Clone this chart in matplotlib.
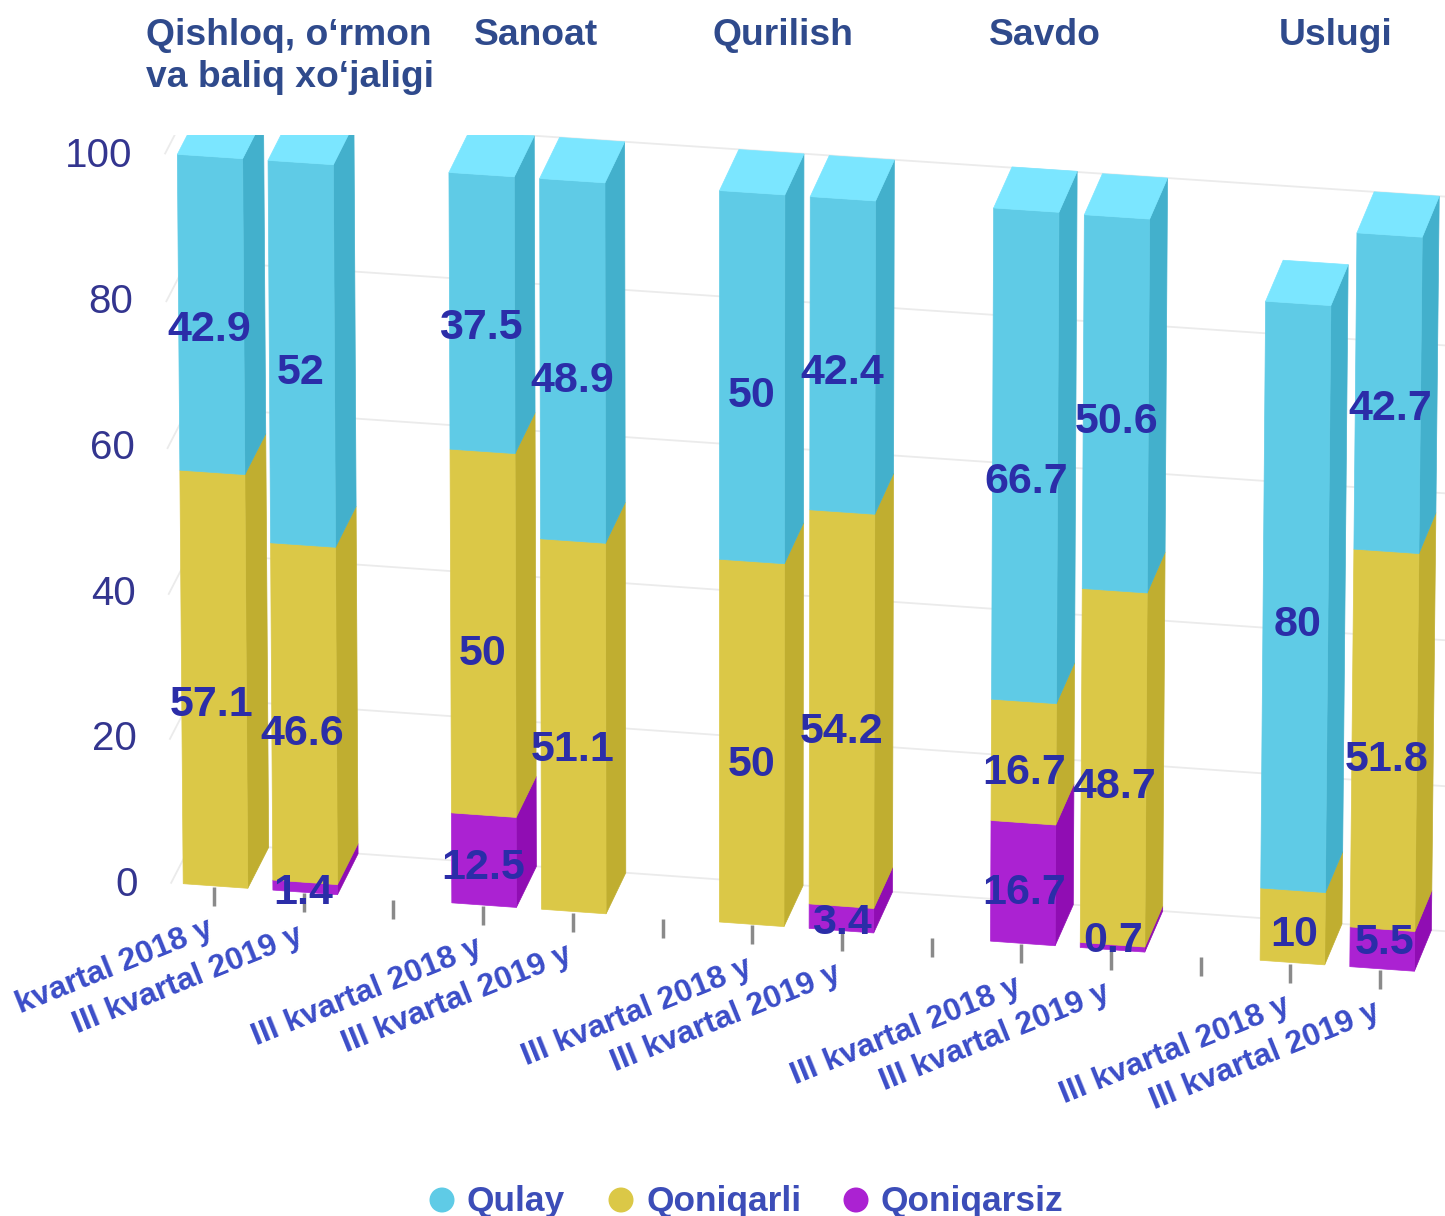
import matplotlib
matplotlib.use("Agg")
import matplotlib.pyplot as plt
from matplotlib.patches import Polygon, Rectangle, Circle

plt.rcParams['font.family'] = ['Liberation Sans', 'DejaVu Sans']

# ---------- data ----------
categories = ["kvartal 2018 y", "III kvartal 2019 y", "",
              "III kvartal 2018 y", "III kvartal 2019 y", "",
              "III kvartal 2018 y", "III kvartal 2019 y", "",
              "III kvartal 2018 y", "III kvartal 2019 y", "",
              "III kvartal 2018 y", "III kvartal 2019 y"]
qulay      = [42.9, 52.0, 0, 37.5, 48.9, 0, 50.0, 42.4, 0, 66.7, 50.6, 0, 80.0, 42.7]
qoniqarli  = [57.1, 46.6, 0, 50.0, 51.1, 0, 50.0, 54.2, 0, 16.7, 48.7, 0, 10.0, 51.8]
qoniqarsiz = [0.0, 1.4, 0, 12.5, 0.0, 0, 0.0, 3.4, 0, 16.7, 0.7, 0, 0.0, 5.5]
series_names = ["Qulay", "Qoniqarli", "Qoniqarsiz"]
group_titles = ["Qishloq, o\u2018rmon\nva baliq xo\u2018jaligi", "Sanoat", "Qurilish", "Savdo", "Uslugi"]
y_ticks = [0, 20, 40, 60, 80, 100]

# ---------- styles and layout ----------
front = ["#5FCBE6", "#DBC847", "#AB22D2"]
side = ["#43B0CC", "#C0AE30", "#900DB3"]
top_col = "#7BE6FF"
label_col = "#2B2DA8"
xlab_col = "#3B4DC8"
ytick_col = "#33358F"
title_col = "#2F4A8C"
legend_col = "#3C4DB8"
grid_col = "#EBEBEB"
half_w = 0.36

# label nudges (pixels down), per series, from the picture
nudge_q = [14, 18, 0, 13, 19, 0, 17, 16, 0, 25, 17, 0, 26, 14]
nudge_m = [24, 19, 0, 20, 22, 0, 21, 22, 0, 10, 18, 0, 6, 19]
nudge_b = [0, 3, 0, 6, 0, 0, 0, 2, 0, 8, -9, 0, 0, -9]
# small sideways corrections of the bar slots, pixels
slot_shift = [-0.5, -0.5, 0, -1, -1, 0, -2.5, -2.5, 0, -0.5, -0.5, 0, 0, 0]
BOW = 12.0  # sag of the value scale at mid height under the perspective, pixels


def project(c, v, depth=0.0, shift=0.0, bow=True):
    """Axis position (category c, value v, depth 0..1) to canvas position."""
    t = v / 100.0
    x0, x100 = 216 + 89.7 * c, 210.5 + 90.7 * c
    y0, y100 = 886 + 6.38 * c, 156.5 + 6.04 * c
    x = x0 + (x100 - x0) * t + depth * (21 - 0.3 * c) + shift
    y = y0 + (y100 - y0) * t - depth * 41
    if bow:
        y += BOW * t * (1 - t)
    return x, y


W, H = 1445, 1216
fig = plt.figure(figsize=(W / 100, H / 100), dpi=100, facecolor="white")
ax = fig.add_axes([0, 0, 1, 1])
ax.set_xlim(0, W)
ax.set_ylim(H, 0)
ax.axis("off")
clip = Rectangle((0, 135), W, H - 135, transform=ax.transData)

# grid on walls
C0, C1 = -0.5, 13.6
for v in y_ticks:
    a, b = project(C0, v), project(C0, v, 1)
    e = project(C1, v, 1)
    ln, = ax.plot([a[0], b[0], e[0]], [a[1], b[1], e[1]], color=grid_col, lw=1.3, zorder=1)
    ln.set_clip_path(clip)
    x, y = project(C0, v, bow=False)
    ax.text(x - 33, y - 1.5, str(v), ha="right", va="center_baseline", fontsize=29, color=ytick_col, zorder=6)


def poly(pts, col, z):
    p = Polygon(pts, closed=True, facecolor=col, edgecolor=col, lw=0.5, zorder=z)
    ax.add_patch(p)
    p.set_clip_path(clip)


# bars, stacked from the bottom
for c in range(len(categories)):
    stack = [(qoniqarsiz[c], 2, nudge_b[c]), (qoniqarli[c], 1, nudge_m[c]), (qulay[c], 0, nudge_q[c])]
    if sum(s[0] for s in stack) == 0:
        continue
    s = slot_shift[c]
    base = 0.0
    l, r = c - half_w, c + half_w
    for val, idx, nudge in stack:
        if val == 0:
            continue
        end = base + val
        poly([project(r, base, 0, s), project(r, base, 1, s), project(r, end, 1, s), project(r, end, 0, s)], side[idx], 3)
        poly([project(l, base, 0, s), project(r, base, 0, s), project(r, end, 0, s), project(l, end, 0, s)], front[idx], 3)
        mx, my = project(c, base + val / 2, 0, s, bow=False)
        ax.text(mx + (c - 6.5) * 0.3, my + nudge - 1.5, f"{val:g}", ha="center", va="center_baseline", fontsize=31,
                fontweight="bold", color=label_col, zorder=7)
        base = end
    poly([project(l, base, 0, s), project(r, base, 0, s), project(r, base, 1, s), project(l, base, 1, s)], top_col, 4)

# tick marks and category labels
for c, name in enumerate(categories):
    tx0, ty0 = project(c, 0)
    ax.plot([tx0 - 2, tx0 - 2], [ty0 + 1, ty0 + 20], color="#8A8A8A", lw=2.5, zorder=2, solid_capstyle="butt")
    if name:
        ax.text(tx0 - 1, ty0 + 49, name, rotation=22, rotation_mode="anchor", ha="right", va="baseline",
                fontsize=23, fontweight="bold", color=xlab_col, zorder=5)

# group titles
title_pos = [146, 474, 713, 989, 1279]
for t, x in zip(group_titles, title_pos):
    for i, line in enumerate(t.split("\n")):
        ax.text(x, 31.5 + 42 * i, line, ha="left", va="center_baseline", fontsize=26.8,
                fontweight="bold", color=title_col)

# legend
legend_x = [442, 621, 856]
for name, col, x in zip(series_names, front, legend_x):
    ax.add_patch(Circle((x, 1200), 12.5, facecolor=col, edgecolor="none"))
    ax.text(x + 25, 1198, name, ha="left", va="center_baseline", fontsize=25.4,
            fontweight="bold", color=legend_col)

fig.savefig("out.png", dpi=100, facecolor="white")
